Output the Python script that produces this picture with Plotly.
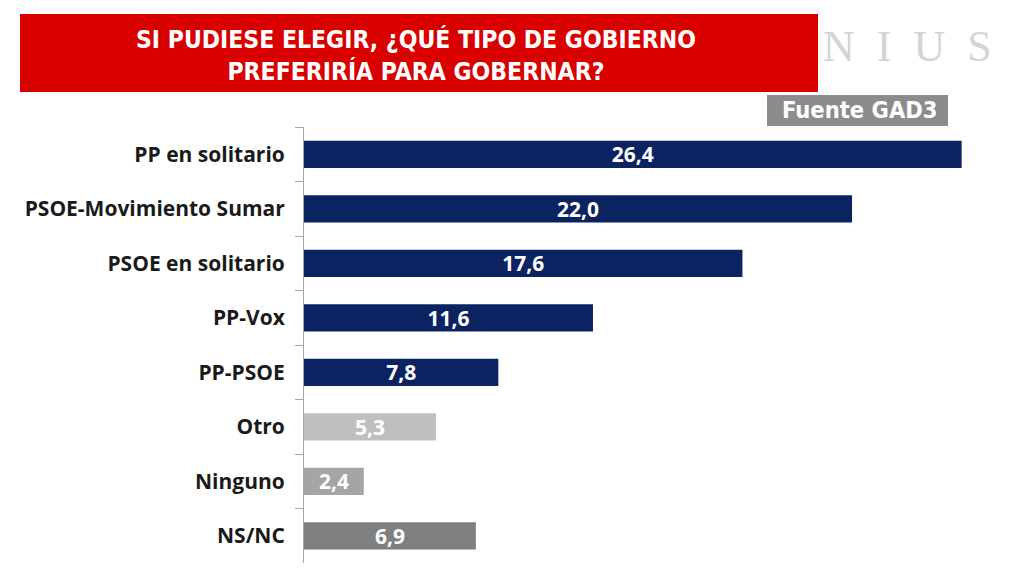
import plotly.graph_objects as go

categories = ["PP en solitario", "PSOE-Movimiento Sumar", "PSOE en solitario", "PP-Vox",
              "PP-PSOE", "Otro", "Ninguno", "NS/NC"]
values = [26.4, 22.0, 17.6, 11.6, 7.8, 5.3, 2.4, 6.9]
colors = ["#0b2461"] * 5 + ["#bfbfbf", "#a5a5a5", "#7f7f7f"]
labels = [f"{v:.1f}".replace(".", ",") for v in values]

fig = go.Figure(go.Bar(
    y=categories, x=values, orientation="h",
    marker=dict(color=colors, line=dict(width=0)),
    text=labels, textposition="inside", insidetextanchor="middle",
    constraintext="none",
    textfont=dict(family="Open Sans", size=21, color="white", weight="bold"),
    width=0.5,
))

fig.update_layout(
    width=1016, height=568,
    margin=dict(l=296, r=20, t=119, b=13),
    paper_bgcolor="white", plot_bgcolor="white",
    showlegend=False,
    xaxis=dict(range=[0, 28.1], visible=False),
    yaxis=dict(autorange="reversed", type="category", tickson="boundaries",
               ticks="outside", ticklen=8, tickcolor="#a6a6a6",
               showline=True, linecolor="#a6a6a6", linewidth=1,
               showgrid=False, ticklabelstandoff=14,
               tickfont=dict(family="Open Sans", size=21, color="#1a1a1a", weight="bold")),
    shapes=[
        dict(type="rect", xref="paper", yref="paper", layer="below",
             x0=(20 - 304) / 700, x1=(818 - 304) / 700,
             y0=(563 - 92) / 436, y1=(563 - 14) / 436,
             fillcolor="#d90000", line=dict(width=0)),
        dict(type="rect", xref="paper", yref="paper", layer="below",
             x0=(767 - 304) / 700, x1=(948 - 304) / 700,
             y0=(563 - 126) / 436, y1=(563 - 95) / 436,
             fillcolor="#8c8c8c", line=dict(width=0)),
    ],
    annotations=[
        dict(xref="paper", yref="paper", x=(416 - 304) / 700, y=(563 - 55) / 436,
             text="SI PUDIESE ELEGIR, ¿QUÉ TIPO DE GOBIERNO<br>PREFERIRÍA PARA GOBERNAR?",
             showarrow=False, xanchor="center", yanchor="middle",
             font=dict(family="DejaVu Sans Condensed", size=24.5, color="white", weight="bold")),
        dict(xref="paper", yref="paper", x=(907 - 304) / 700, y=(563 - 46) / 436,
             text="N  I  U  S", showarrow=False, xanchor="center", yanchor="middle",
             font=dict(family="Liberation Serif", size=44, color="#d4d4d4")),
        dict(xref="paper", yref="paper", x=(860 - 304) / 700, y=(563 - 110) / 436,
             text="Fuente GAD3", showarrow=False, xanchor="center", yanchor="middle",
             font=dict(family="DejaVu Sans Condensed", size=23.5, color="white", weight="bold")),
    ],
)

fig.write_html("out.html")
